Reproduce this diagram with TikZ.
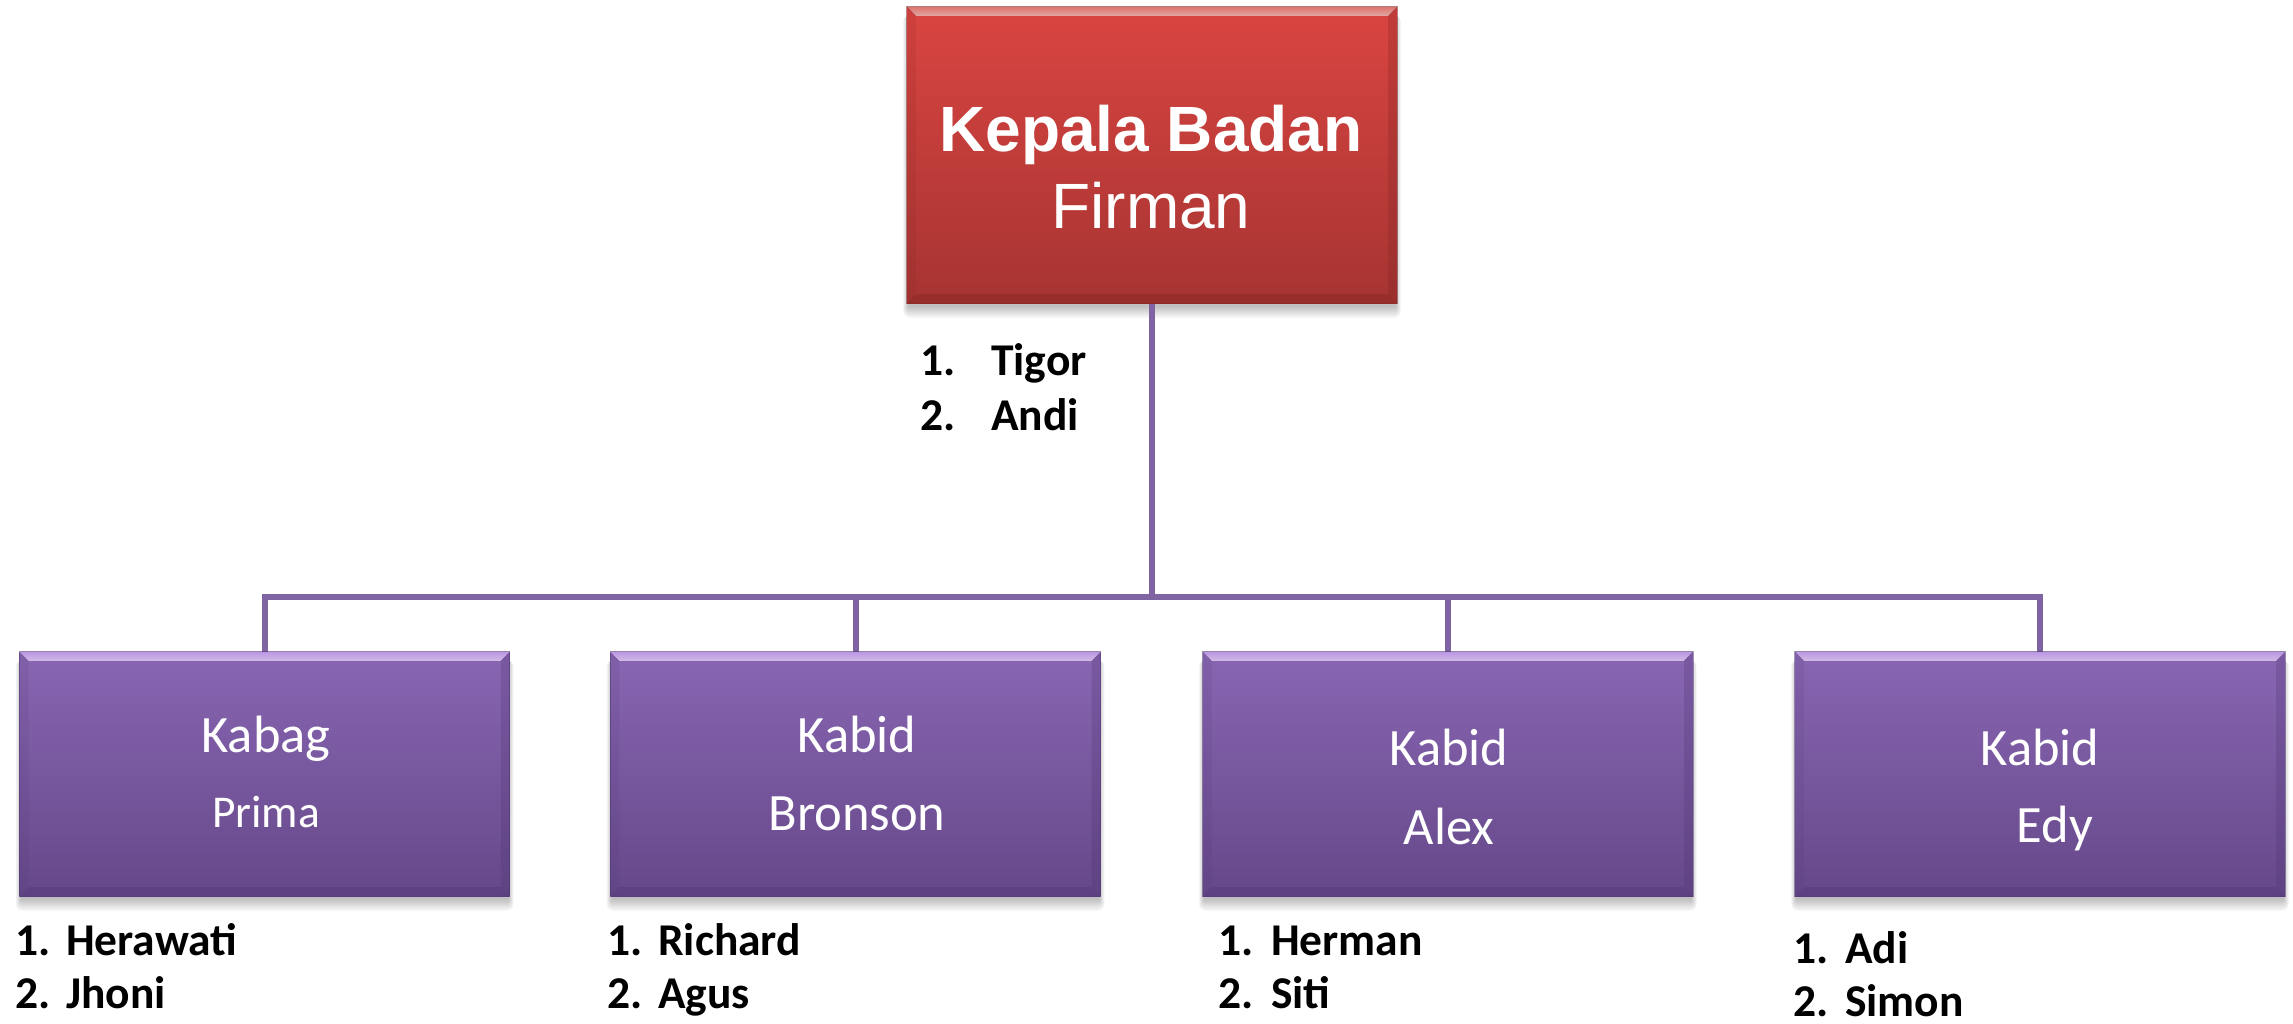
\documentclass[tikz,border=0pt]{standalone}
\usepackage{fontspec}
\setmainfont{Carlito}
\newfontfamily\headfont{Liberation Sans}
\usetikzlibrary{calc}
\pgfdeclarelayer{background}
\pgfsetlayers{background,main}

\definecolor{linkpurple}{HTML}{8064A2}
\definecolor{unittop}{HTML}{8966B3}
\definecolor{unitbottom}{HTML}{654889}
\definecolor{unitlight}{HTML}{CFA6FA}
\definecolor{unitdark}{HTML}{4E3470}
\definecolor{headtop}{HTML}{DA4541}
\definecolor{headbottom}{HTML}{A63432}
\definecolor{headlight}{HTML}{F4807A}
\definecolor{headdark}{HTML}{7A2422}

% soft drop shadow under a box
\newcommand\softshadow[1]{%
  \foreach \s in {1,...,7}{%
    \fill[black,opacity=0.04,rounded corners=\s pt]
      ($(#1.north west)+(-\s*0.8+2,8)$) rectangle ($(#1.south east)+(\s*0.8-2,2+\s*1.8)$);
  }%
}
% bevelled rim: light top edge, darker bottom and right edges
\newcommand\bevelrim[3]{%
  \fill[top color=#2,bottom color=#2!55!white,opacity=0.9]
    (#1.north west) -- (#1.north east) -- ($(#1.north east)+(-9,9)$) -- ($(#1.north west)+(9,9)$) -- cycle;
  \fill[#3,opacity=0.35]
    (#1.south west) -- (#1.south east) -- ($(#1.south east)+(-9,-9)$) -- ($(#1.south west)+(9,-9)$) -- cycle;
  \fill[#3,opacity=0.25]
    (#1.north east) -- (#1.south east) -- ($(#1.south east)+(-9,-9)$) -- ($(#1.north east)+(-9,9)$) -- cycle;
  \fill[#3,opacity=0.12]
    (#1.north west) -- (#1.south west) -- ($(#1.south west)+(9,-9)$) -- ($(#1.north west)+(9,9)$) -- cycle;
  \draw[#3,opacity=0.5,line width=1pt] (#1.north west) rectangle (#1.south east);
}
% numbered list entry: number and name on one baseline
\newcommand\entry[6]{%
  \node[listtext] (#1n) at (#2,#4) {#5};
  \node[listtext] (#1t) at (#3,#4) {#6};
}

\begin{document}
\begin{tikzpicture}[x=1pt,y=-1pt,
  headbox/.style={rectangle,inner sep=0pt,top color=headtop,bottom color=headbottom,draw=none},
  unitbox/.style={rectangle,inner sep=0pt,minimum width=490pt,minimum height=244pt,top color=unittop,bottom color=unitbottom,draw=none},
  link/.style={draw=linkpurple,line width=6pt,line join=miter},
  headtext/.style={anchor=base,inner sep=0pt,text=white,font=\headfont\fontsize{64}{74}\selectfont},
  unittext/.style={anchor=base,inner sep=0pt,text=white,font=\fontsize{52.5}{62}\selectfont},
  smalltext/.style={anchor=base,inner sep=0pt,text=white,font=\fontsize{45.5}{54}\selectfont},
  listtext/.style={anchor=base west,inner sep=0pt,text=black,font=\bfseries\fontsize{45.5}{54}\selectfont},
]
\useasboundingbox (0,0) rectangle (2293,1023);

% boxes
\path (1152,155) node[headbox,minimum width=490pt,minimum height=296pt] (head) {};
\path (264.7,774) node[unitbox] (u1) {};
\path (855.5,774) node[unitbox] (u2) {};
\path (1447.8,774) node[unitbox] (u3) {};
\path (2040,774) node[unitbox] (u4) {};

\begin{pgfonlayer}{background}
  \softshadow{head}
  \softshadow{u1}
  \softshadow{u2}
  \softshadow{u3}
  \softshadow{u4}
  % connectors
  \coordinate (junction) at (1152,597);
  \draw[link] (head.south) -- (junction);
  \draw[link] (u1.north) |- (junction) -| (u4.north);
  \draw[link] (u2.north) -- (u2.north |- junction);
  \draw[link] (u3.north) -- (u3.north |- junction);
\end{pgfonlayer}

\bevelrim{head}{headlight}{headdark}
\bevelrim{u1}{unitlight}{unitdark}
\bevelrim{u2}{unitlight}{unitdark}
\bevelrim{u3}{unitlight}{unitdark}
\bevelrim{u4}{unitlight}{unitdark}

% box texts
\node[headtext,font=\headfont\bfseries\fontsize{64}{74}\selectfont] (headrole) at (1151,151) {Kepala Badan};
\node[headtext] (headname) at (1151,228) {Firman};

\node[unittext] (u1role) at (266,752) {Kabag};
\node[smalltext] (u1name) at (266,827) {Prima};
\node[unittext] (u2role) at (857,752) {Kabid};
\node[unittext] (u2name) at (857,830) {Bronson};
\node[unittext] (u3role) at (1449,765) {Kabid};
\node[unittext] (u3name) at (1449,844) {Alex};
\node[unittext] (u4role) at (2040,765) {Kabid};
\node[unittext] (u4name) at (2055,842) {Edy};

% staff lists
\entry{h1}{920}{991}{375}{1.}{Tigor}
\entry{h2}{920}{991}{430}{2.}{Andi}
\entry{a1}{15}{66}{955}{1.}{Herawati}
\entry{a2}{15}{66}{1008}{2.}{Jhoni}
\entry{b1}{607}{658}{955}{1.}{Richard}
\entry{b2}{607}{658}{1008}{2.}{Agus}
\entry{c1}{1218}{1271}{955}{1.}{Herman}
\entry{c2}{1218}{1271}{1008}{2.}{Siti}
\entry{d1}{1793}{1845}{963}{1.}{Adi}
\entry{d2}{1793}{1845}{1016}{2.}{Simon}
\end{tikzpicture}
\end{document}
